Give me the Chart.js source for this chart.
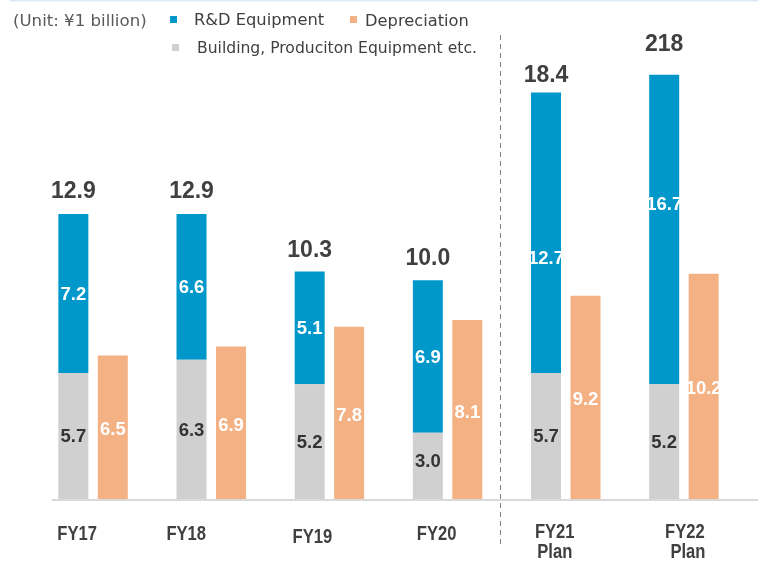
<!DOCTYPE html>
<html><head><meta charset="utf-8">
<script src="https://cdn.jsdelivr.net/npm/chart.js@4"></script>
<style>
html,body{margin:0;padding:0;background:#fff;}
#wrap{position:relative;width:758px;height:570px;overflow:hidden;}
#c{position:absolute;left:0;top:0;}
.lg{position:absolute;font-family:"DejaVu Sans",sans-serif;font-size:16.3px;color:#404040;white-space:nowrap;line-height:20px;}
.sq{position:absolute;width:7px;height:7px;}
</style></head><body>
<div id="wrap"><canvas id="c" width="758" height="570"></canvas></div>
<script>
// ---- data ----
const categories = [['FY17'], ['FY18'], ['FY19'], ['FY20'], ['FY21', 'Plan'], ['FY22', 'Plan']];
const unitText = '(Unit: ¥1 billion)';
const seriesNames = ['Building, Produciton Equipment etc.', 'R&D Equipment', 'Depreciation'];
const building = [5.7, 6.3, 5.2, 3.0, 5.7, 5.2];
// bar heights as drawn in the picture (the FY22 R&D bar is drawn shorter than its 16.7 label)
const rdEquipment = [7.2, 6.6, 5.1, 6.9, 12.7, 14.0];
const depreciation = [6.5, 6.9, 7.8, 8.1, 9.2, 10.2];
// label texts as printed in the picture
const buildingLabels = ['5.7', '6.3', '5.2', '3.0', '5.7', '5.2'];
const rdLabels = ['7.2', '6.6', '5.1', '6.9', '12.7', '16.7'];
const depreciationLabels = ['6.5', '6.9', '7.8', '8.1', '9.2', '10.2'];
const totalLabels = ['12.9', '12.9', '10.3', '10.0', '18.4', '218'];

// ---- styling ----
const COL_BLUE = '#0097CB', COL_ORANGE = '#F4B183', COL_GRAY = '#D0D0D0';
const style = {
  tickShiftX: [-16, -25, -17, -11, -11, 1],
  tickShiftY: [0, 0, 3, 0, -2, -2],
  totalShift: [0, 0, 1, 0, 5, -8],
  rdShift: [0, 0, 0, 0, 25, -26],
  grayShift: [0, 0, 0, -5, 0, 0]
};

// legend (HTML text)
const wrap = document.getElementById('wrap');
function addText(txt, left, top, color, size) {
  const d = document.createElement('div'); d.className = 'lg';
  d.style.left = left + 'px'; d.style.top = top + 'px';
  if (color) d.style.color = color;
  if (size) d.style.fontSize = size + 'px';
  d.textContent = txt; wrap.appendChild(d); return d;
}
function addSq(left, top, color) {
  const d = document.createElement('div'); d.className = 'sq';
  d.style.left = left + 'px'; d.style.top = top + 'px'; d.style.background = color;
  wrap.appendChild(d);
}
addText(unitText, 13, 11, '#595959', 16.6);
addSq(170, 16, COL_BLUE); addText(seriesNames[1], 194, 10);
addSq(350, 16, COL_ORANGE); addText(seriesNames[2], 365, 11);
addSq(172, 44, COL_GRAY); addText(seriesNames[0], 197, 38, null, 15.6);

function narrowText(ctx, txt, x, y, sx) {
  ctx.save(); ctx.translate(x, y); ctx.scale(sx, 1); ctx.fillText(txt, 0, 0); ctx.restore();
}

const decor = {
  id: 'decor',
  beforeDatasetsDraw(chart) {
    const { ctx, scales: { x, y } } = chart;
    const y0 = y.getPixelForValue(0);
    ctx.save();
    ctx.fillStyle = '#dde9f6';
    ctx.fillRect(10, 0, 748, 1.5);
    ctx.fillStyle = '#d9d9d9';
    ctx.fillRect(52, y0, 706, 2);
    // dashed separator between actuals and plans
    const xs = (x.getPixelForValue(3) + x.getPixelForValue(4)) / 2 - 7;
    ctx.strokeStyle = '#808080'; ctx.lineWidth = 1; ctx.setLineDash([5, 4]);
    ctx.beginPath(); ctx.moveTo(Math.round(xs) + 0.5, 35); ctx.lineTo(Math.round(xs) + 0.5, 548); ctx.stroke();
    ctx.restore();
  },
  afterDatasetsDraw(chart) {
    const { ctx, scales: { x } } = chart;
    const mg = chart.getDatasetMeta(0).data, mb = chart.getDatasetMeta(1).data, mo = chart.getDatasetMeta(2).data;
    ctx.save();
    ctx.textAlign = 'center'; ctx.textBaseline = 'middle';
    for (let i = 0; i < categories.length; i++) {
      const g = mg[i], b = mb[i], o = mo[i];
      ctx.font = 'bold 18.5px "Liberation Sans", Arial, sans-serif';
      ctx.fillStyle = '#333333';
      ctx.fillText(buildingLabels[i], g.x, (g.y + g.base) / 2 + 1 + style.grayShift[i]);
      ctx.fillStyle = '#ffffff';
      ctx.fillText(rdLabels[i], b.x, (b.y + b.base) / 2 + 1 + style.rdShift[i]);
      ctx.fillText(depreciationLabels[i], o.x, (o.y + o.base) / 2 + 3);
      ctx.font = 'bold 23px "Liberation Sans", Arial, sans-serif';
      ctx.fillStyle = '#404040';
      ctx.fillText(totalLabels[i], b.x, b.y - 22 + style.totalShift[i]);
      // category labels
      ctx.font = 'bold 20px "Liberation Sans", Arial, sans-serif';
      ctx.fillStyle = '#404040';
      const cx = x.getPixelForValue(i) + style.tickShiftX[i];
      const lines = categories[i];
      lines.forEach((t, k) => {
        narrowText(ctx, t, cx + (k > 0 && i === 5 ? 3 : 0), 534 + style.tickShiftY[i] + k * 20, 0.83);
      });
    }
    ctx.restore();
  }
};

new Chart(document.getElementById('c'), {
  type: 'bar',
  data: {
    labels: categories,
    datasets: [
      { label: seriesNames[0], data: building, backgroundColor: COL_GRAY, stack: 'a' },
      { label: seriesNames[1], data: rdEquipment, backgroundColor: COL_BLUE, stack: 'a' },
      { label: seriesNames[2], data: depreciation, backgroundColor: COL_ORANGE, stack: 'b' }
    ]
  },
  options: {
    responsive: false,
    animation: false,
    layout: { padding: { left: 34, right: 15, top: 13, bottom: 71 } },
    datasets: { bar: { categoryPercentage: 0.668, barPercentage: 0.76, borderWidth: 0 } },
    plugins: { legend: { display: false }, tooltip: { enabled: false } },
    scales: {
      x: { display: false, stacked: true },
      y: { display: false, stacked: true, min: 0, max: 22 }
    }
  },
  plugins: [decor]
});
</script>
</body></html>
